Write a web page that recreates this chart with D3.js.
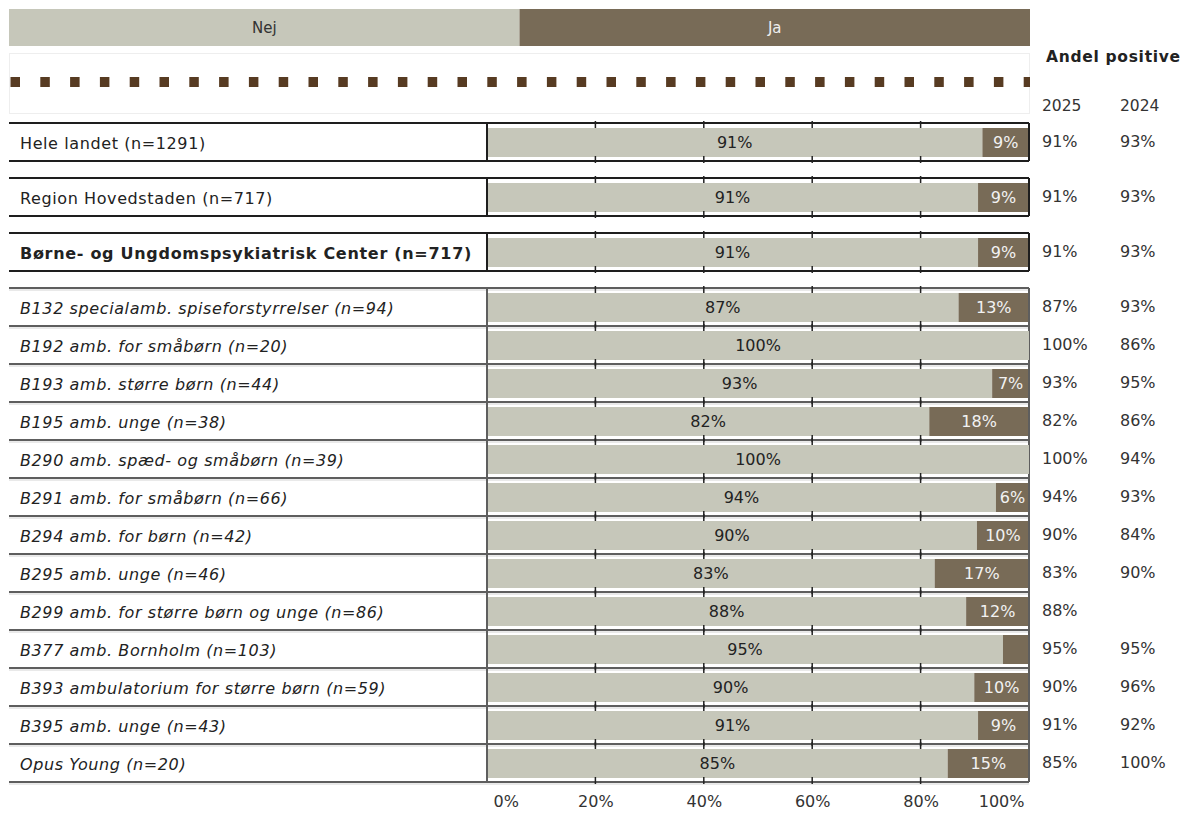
<!DOCTYPE html>
<html>
<head>
<meta charset="utf-8">
<script src="https://cdn.jsdelivr.net/npm/d3@7"></script>
<style>
  html, body { margin: 0; padding: 0; background: #fff; }
  svg text { font-family: "DejaVu Sans", Verdana, sans-serif; }
</style>
</head>
<body>
<svg id="chart" width="1184" height="815"></svg>
<script>
// Units and their response shares
const units = [
  "Hele landet (n=1291)",
  "Region Hovedstaden (n=717)",
  "Børne- og Ungdomspsykiatrisk Center (n=717)",
  "B132 specialamb. spiseforstyrrelser (n=94)",
  "B192 amb. for småbørn (n=20)",
  "B193 amb. større børn (n=44)",
  "B195 amb. unge (n=38)",
  "B290 amb. spæd- og småbørn (n=39)",
  "B291 amb. for småbørn (n=66)",
  "B294 amb. for børn (n=42)",
  "B295 amb. unge (n=46)",
  "B299 amb. for større børn og unge (n=86)",
  "B377 amb. Bornholm (n=103)",
  "B393 ambulatorium for større børn (n=59)",
  "B395 amb. unge (n=43)",
  "Opus Young (n=20)"
];
// Level of each unit: 0 = national, 1 = region, 2 = centre, 3 = section
const levels = [0, 1, 2, 3, 3, 3, 3, 3, 3, 3, 3, 3, 3, 3, 3, 3];
const nejValues = [91.4, 90.6, 90.6, 87, 100, 93.2, 81.6, 100, 93.9, 90.4, 82.6, 88.4, 95.2, 89.9, 90.6, 85];
const jaValues  = [8.6, 9.4, 9.4, 13, 0, 6.8, 18.4, 0, 6.1, 9.6, 17.4, 11.6, 4.8, 10.1, 9.4, 15];
const positive2025 = [91, 91, 91, 87, 100, 93, 82, 100, 94, 90, 83, 88, 95, 90, 91, 85];
const positive2024 = [93, 93, 93, 93, 86, 95, 86, 94, 93, 84, 90, null, 95, 96, 92, 100];
const legendKeys = ["Nej", "Ja"];
const axisTicks = [0, 20, 40, 60, 80, 100];
const yearHeaders = ["2025", "2024"];

const COL_NEJ = "#c6c7ba";
const COL_JA = "#786b57";
const TEXT = "#222";

const svg = d3.select("#chart");

// geometry
const labelLeft = 9, plotLeft = 487, plotRight = 1029;
const rowH = 38;
const x = d3.scaleLinear().domain([0, 100]).range([plotLeft, plotRight]);
const col2025 = 1042, col2024 = 1120;

function rowTop(i) {
  return i < 3 ? 123 + i * 55 : 288 + (i - 3) * rowH;
}

// ---- legend band ----
const legendX = d3.scaleBand().domain(legendKeys).range([9, 1030]);
const legend = svg.append("g");
legend.selectAll("rect").data(legendKeys).join("rect")
  .attr("x", d => legendX(d)).attr("y", 9)
  .attr("width", legendX.bandwidth()).attr("height", 37)
  .attr("fill", (d, i) => i === 0 ? COL_NEJ : COL_JA);
legend.selectAll("text").data(legendKeys).join("text")
  .attr("x", d => legendX(d) + legendX.bandwidth() / 2).attr("y", 28)
  .attr("text-anchor", "middle").attr("dominant-baseline", "central")
  .attr("font-size", 15)
  .attr("fill", (d, i) => i === 0 ? "#333" : "#eee")
  .text(d => d);

// dotted divider box
svg.append("rect").attr("x", 9.5).attr("y", 53.5).attr("width", 1020).attr("height", 60)
  .attr("fill", "none").attr("stroke", "#eeeeee");
const dotStep = 29.8, dotX0 = 10.5;
svg.append("g").selectAll("rect").data(d3.range(Math.ceil((1030 - dotX0) / dotStep)))
  .join("rect")
  .attr("x", k => dotX0 + k * dotStep).attr("y", 77)
  .attr("width", k => Math.min(9.5, 1030 - (dotX0 + k * dotStep))).attr("height", 10)
  .attr("fill", "#573b22");

// headers for the share column
svg.append("text").attr("x", 1046).attr("y", 57).attr("dominant-baseline", "central")
  .attr("font-size", 15.5).attr("font-weight", "bold").attr("fill", TEXT)
  .attr("letter-spacing", 0.7)
  .text("Andel positive");
svg.append("g").selectAll("text").data(yearHeaders).join("text")
  .attr("x", (d, i) => i === 0 ? col2025 : col2024).attr("y", 106)
  .attr("dominant-baseline", "central").attr("font-size", 15.5).attr("fill", "#333")
  .text(d => d);

// ---- rows ----
const rows = units.map((u, i) => ({
  label: u, level: levels[i], nej: nejValues[i], ja: jaValues[i],
  p25: positive2025[i], p24: positive2024[i], top: rowTop(i)
}));

const frame = svg.append("g");
// top-level rows: each in its own framed box
rows.filter(r => r.level < 3).forEach(r => {
  [r.top, r.top + rowH].forEach(yy => {
    frame.append("line").attr("x1", labelLeft).attr("x2", plotRight)
      .attr("y1", yy).attr("y2", yy).attr("stroke", "#1e1e1e").attr("stroke-width", 2);
  });
  [plotLeft, plotRight].forEach(xx => {
    frame.append("line").attr("x1", xx).attr("x2", xx)
      .attr("y1", r.top).attr("y2", r.top + rowH).attr("stroke", "#1e1e1e").attr("stroke-width", 2);
  });
});
// section rows: one grid box with row separators
const sec = rows.filter(r => r.level === 3);
const secTop = sec[0].top, secBottom = sec[sec.length - 1].top + rowH;
d3.range(sec.length + 1).forEach(k => {
  const yy = secTop + k * rowH;
  frame.append("line").attr("x1", labelLeft).attr("x2", plotRight)
    .attr("y1", yy).attr("y2", yy).attr("stroke", "#5e5e5e").attr("stroke-width", 2);
  frame.append("line").attr("x1", labelLeft).attr("x2", plotRight)
    .attr("y1", yy + 2).attr("y2", yy + 2).attr("stroke", "#d4d4d4").attr("stroke-width", 1);
});
[plotLeft, plotRight].forEach(xx => {
  frame.append("line").attr("x1", xx).attr("x2", xx)
    .attr("y1", secTop).attr("y2", secBottom).attr("stroke", "#5e5e5e").attr("stroke-width", 2);
});

// bars
const barPadTop = 5, barH = 29;
const bars = svg.append("g");
bars.selectAll("rect.nej").data(rows).join("rect").attr("class", "nej")
  .attr("x", x(0) + 1).attr("y", d => d.top + barPadTop)
  .attr("width", d => x(d.nej) - x(0) - 1).attr("height", barH)
  .attr("fill", COL_NEJ);
bars.selectAll("rect.ja").data(rows.filter(d => d.ja > 0)).join("rect").attr("class", "ja")
  .attr("x", d => x(d.nej)).attr("y", d => d.top + barPadTop)
  .attr("width", d => x(100) - x(d.nej) - 1).attr("height", barH)
  .attr("fill", COL_JA);

// tick marks along each row edge
const tickG = svg.append("g");
rows.forEach(r => {
  [20, 40, 60, 80].forEach(v => {
    tickG.append("line").attr("x1", x(v)).attr("x2", x(v))
      .attr("y1", r.top - 2).attr("y2", r.top + 5)
      .attr("stroke", "#222").attr("stroke-width", 1.5);
    tickG.append("line").attr("x1", x(v)).attr("x2", x(v))
      .attr("y1", r.top + rowH - 5).attr("y2", r.top + rowH + 2)
      .attr("stroke", "#222").attr("stroke-width", 1.5);
  });
});

// value labels inside bars
const fmt = v => d3.format(".0f")(v) + "%";
const vals = svg.append("g").attr("font-size", 16);
vals.selectAll("text.nej").data(rows).join("text").attr("class", "nej")
  .attr("x", d => (x(0) + x(d.nej)) / 2).attr("y", d => d.top + barPadTop + barH / 2)
  .attr("text-anchor", "middle").attr("dominant-baseline", "central")
  .attr("fill", TEXT).text(d => fmt(d.nej));
vals.selectAll("text.ja").data(rows.filter(d => d.ja >= 5.5)).join("text").attr("class", "ja")
  .attr("x", d => (x(d.nej) + x(100)) / 2).attr("y", d => d.top + barPadTop + barH / 2)
  .attr("text-anchor", "middle").attr("dominant-baseline", "central")
  .attr("fill", "#f2f2f2").text(d => fmt(d.ja));

// unit labels
svg.append("g").selectAll("text").data(rows).join("text")
  .attr("x", 20).attr("y", d => d.top + rowH / 2 + 1)
  .attr("dominant-baseline", "central")
  .attr("font-size", 16)
  .attr("letter-spacing", d => d.level === 2 ? 0.7 : 0.6)
  .attr("font-weight", d => d.level === 2 ? "bold" : "normal")
  .attr("font-style", d => d.level === 3 ? "italic" : "normal")
  .attr("fill", TEXT)
  .text(d => d.label);

// share of positive answers, 2025 and 2024
const share = svg.append("g").attr("font-size", 16).attr("fill", "#333");
share.selectAll("text.y25").data(rows).join("text").attr("class", "y25")
  .attr("x", col2025).attr("y", d => d.top + rowH / 2 - 1)
  .attr("dominant-baseline", "central").text(d => d.p25 + "%");
share.selectAll("text.y24").data(rows.filter(d => d.p24 !== null)).join("text").attr("class", "y24")
  .attr("x", col2024).attr("y", d => d.top + rowH / 2 - 1)
  .attr("dominant-baseline", "central").text(d => d.p24 + "%");

// bottom axis
const axis = svg.append("g").attr("transform", `translate(0,${secBottom})`)
  .call(d3.axisBottom(x).tickValues(axisTicks).tickSize(0).tickPadding(14).tickFormat(d => d + "%"));
axis.select(".domain").remove();
axis.selectAll("text").attr("font-size", 16).attr("fill", "#333")
  .attr("font-family", "DejaVu Sans, Verdana, sans-serif");
axis.selectAll(".tick").filter(d => d === 0).select("text")
  .attr("text-anchor", "start").attr("dx", 6);
axis.selectAll(".tick").filter(d => d === 100).select("text")
  .attr("text-anchor", "end").attr("dx", -5);
</script>
</body>
</html>
